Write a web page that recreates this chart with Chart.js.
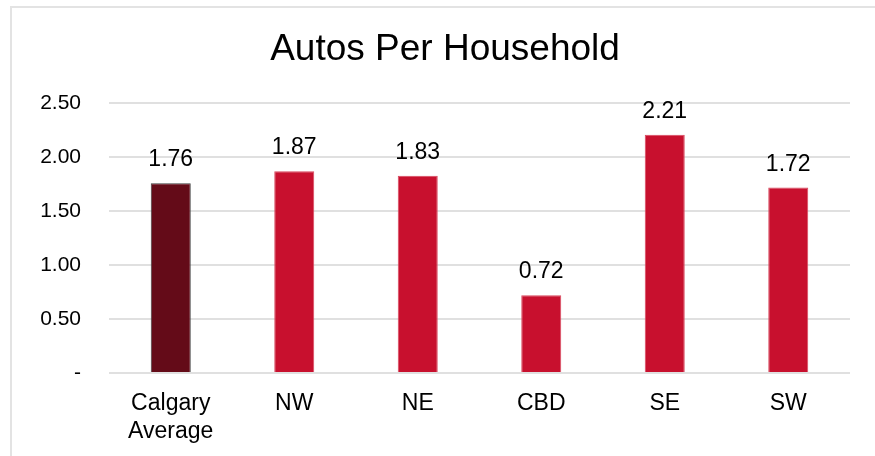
<!DOCTYPE html>
<html>
<head>
<meta charset="utf-8">
<style>
  html, body { margin: 0; padding: 0; background: #fff; overflow: hidden; }
  #frame {
    position: absolute; left: 10px; top: 6px; width: 900px; height: 500px;
    border-top: 2px solid #e3e3e3; border-left: 2px solid #e3e3e3;
  }
  #wrap { position: absolute; left: 0; top: 0; width: 875px; height: 456px; }
</style>
<script src="https://cdn.jsdelivr.net/npm/chart.js@4.4.1/dist/chart.umd.min.js"></script>
</head>
<body>
<div id="frame"></div>
<div id="wrap"><canvas id="chart"></canvas></div>
<script>
const categories = [["Calgary", "Average"], "NW", "NE", "CBD", "SE", "SW"];
const autosPerHousehold = [1.76, 1.87, 1.83, 0.72, 2.21, 1.72];
const yTicks = [0, 0.5, 1.0, 1.5, 2.0, 2.5];

const barColors = ["#640b18", "#c8102e", "#c8102e", "#c8102e", "#c8102e", "#c8102e"];
const barBorders = ["#3f3f3f", "#d9475d", "#d9475d", "#d9475d", "#d9475d", "#d9475d"];

// draws the value above every bar
const valueLabels = {
  id: "valueLabels",
  afterDatasetsDraw(chart) {
    const ctx = chart.ctx;
    const meta = chart.getDatasetMeta(0);
    ctx.save();
    ctx.font = "23px 'Liberation Sans', Arial, sans-serif";
    ctx.fillStyle = "#000";
    ctx.textAlign = "center";
    ctx.textBaseline = "alphabetic";
    meta.data.forEach((bar, i) => {
      ctx.fillText(autosPerHousehold[i].toFixed(2), bar.x, bar.y - 17);
    });
    ctx.restore();
  }
};

const ctx = document.getElementById("chart").getContext("2d");
new Chart(ctx, {
  type: "bar",
  data: {
    labels: categories,
    datasets: [
      {
        data: autosPerHousehold,
        backgroundColor: barColors,
        borderColor: barBorders,
        borderWidth: 1,
        categoryPercentage: 1,
        barPercentage: 0.324,
      },
    ],
  },
  options: {
    responsive: true,
    maintainAspectRatio: false,
    animation: false,
    layout: { padding: { left: 40, right: 25, top: 0, bottom: 0 } },
    plugins: {
      legend: { display: false },
      tooltip: { enabled: false },
      title: {
        display: true,
        text: "Autos Per Household",
        color: "#000",
        font: { family: "'Liberation Sans', Arial, sans-serif", size: 37, weight: "normal" },
        padding: { top: 28, bottom: 31 },
      },
    },
    scales: {
      y: {
        min: 0,
        max: 2.5,
        afterBuildTicks(axis) {
          axis.ticks = yTicks.map((v) => ({ value: v }));
        },
        afterFit(axis) {
          axis.width = 69;
        },
        border: { display: false },
        grid: { color: "#e0e0e0", lineWidth: 2, drawTicks: false },
        ticks: {
          padding: 28,
          color: "#000",
          font: { family: "'Liberation Sans', Arial, sans-serif", size: 21 },
          callback: (v) => (v === 0 ? "-" : Number(v).toFixed(2)),
        },
      },
      x: {
        afterFit(axis) {
          axis.height = 83;
        },
        border: { display: false },
        grid: { display: false },
        ticks: {
          padding: 8,
          color: "#000",
          maxRotation: 0,
          font: { family: "'Liberation Sans', Arial, sans-serif", size: 23, lineHeight: 1.25 },
        },
      },
    },
  },
  plugins: [valueLabels],
});
</script>
</body>
</html>
